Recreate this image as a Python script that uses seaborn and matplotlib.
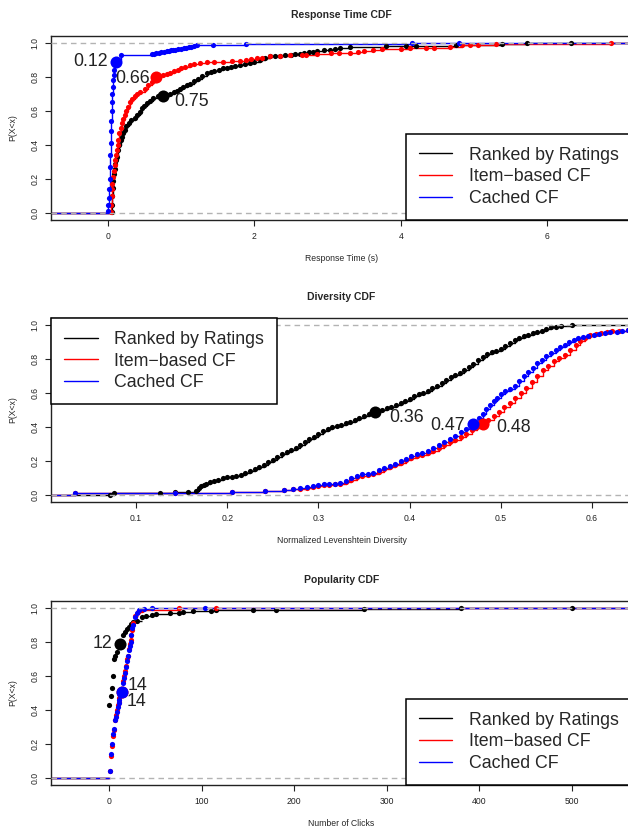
import matplotlib
matplotlib.use("Agg")
import matplotlib.pyplot as plt
from matplotlib.lines import Line2D
import seaborn as sns

sns.set_style("ticks")
plt.rcParams["font.family"] = ["Liberation Sans", "DejaVu Sans"]

series_names = ["Ranked by Ratings", "Item\u2212based CF", "Cached CF"]
series_colors = ["black", "red", "blue"]

# Response time CDF (seconds, P(X<x))
rt_black_x = [0.05, 0.055, 0.06, 0.065, 0.07, 0.08, 0.09, 0.10, 0.11, 0.12, 0.135, 0.15, 0.17,
              0.19, 0.21, 0.23, 0.25, 0.28, 0.32, 0.37, 0.40, 0.43, 0.46, 0.49, 0.53, 0.57, 0.62,
              0.68, 0.75, 0.80, 0.85, 0.90, 0.94, 0.98, 1.03, 1.08, 1.12, 1.18, 1.23, 1.29, 1.35,
              1.40, 1.45, 1.51, 1.57, 1.62, 1.68, 1.74, 1.80, 1.87, 1.94, 2.00, 2.07, 2.14, 2.21,
              2.28, 2.35, 2.42, 2.50, 2.56, 2.62, 2.68, 2.75, 2.80, 2.85, 2.95, 3.03, 3.10, 3.17,
              3.30, 3.80, 4.07, 4.21, 4.76, 5.39, 5.73, 6.33]
rt_black_p = [0.005, 0.05, 0.10, 0.15, 0.19, 0.23, 0.26, 0.29, 0.31, 0.33, 0.37, 0.40, 0.43,
              0.45, 0.47, 0.49, 0.51, 0.53, 0.545, 0.56, 0.575, 0.595, 0.615, 0.63, 0.645, 0.66,
              0.675, 0.685, 0.69, 0.695, 0.70, 0.71, 0.72, 0.73, 0.74, 0.75, 0.76, 0.775, 0.79,
              0.805, 0.82, 0.83, 0.835, 0.843, 0.85, 0.855, 0.86, 0.865, 0.87, 0.875, 0.88, 0.89,
              0.90, 0.91, 0.92, 0.922, 0.924, 0.927, 0.93, 0.932, 0.935, 0.94, 0.945, 0.948, 0.95,
              0.955, 0.96, 0.965, 0.97, 0.975, 0.98, 0.98, 0.982, 0.988, 0.994, 0.998, 1.0]
rt_red_x = [0.04, 0.045, 0.05, 0.055, 0.06, 0.07, 0.08, 0.09, 0.10, 0.11, 0.12, 0.13, 0.14, 0.155,
            0.17, 0.19, 0.21, 0.23, 0.25, 0.275, 0.30, 0.33, 0.37, 0.40, 0.44, 0.50, 0.55, 0.60,
            0.66, 0.70, 0.75, 0.80, 0.85, 0.90, 0.95, 1.00, 1.05, 1.12, 1.18, 1.25, 1.35, 1.45,
            1.57, 1.70, 1.80, 1.88, 1.95, 2.03, 2.10, 2.21, 2.35, 2.48, 2.65, 2.71, 2.85, 3.05,
            3.15, 3.30, 3.42, 3.50, 3.62, 3.75, 4.00, 4.12, 4.35, 4.45, 4.67, 4.84, 4.95, 5.05,
            5.30, 6.87]
rt_red_p = [0.005, 0.05, 0.10, 0.14, 0.17, 0.21, 0.25, 0.28, 0.31, 0.34, 0.37, 0.40, 0.43, 0.47,
            0.50, 0.53, 0.55, 0.575, 0.60, 0.625, 0.65, 0.67, 0.69, 0.70, 0.71, 0.73, 0.75, 0.77,
            0.80, 0.805, 0.81, 0.818, 0.825, 0.832, 0.84, 0.85, 0.86, 0.87, 0.875, 0.88, 0.885,
            0.888, 0.89, 0.893, 0.896, 0.90, 0.905, 0.91, 0.912, 0.92, 0.925, 0.93, 0.93, 0.931,
            0.933, 0.938, 0.94, 0.943, 0.946, 0.95, 0.955, 0.963, 0.966, 0.968, 0.97, 0.972, 0.976,
            0.985, 0.986, 0.988, 0.992, 0.996]
rt_blue_x = [0.00, 0.005, 0.01, 0.015, 0.02, 0.025, 0.03, 0.035, 0.04, 0.045, 0.05, 0.055, 0.06,
             0.065, 0.07, 0.075, 0.08, 0.09, 0.10, 0.12, 0.17, 0.60, 0.63, 0.66, 0.69, 0.72, 0.76,
             0.80, 0.83, 0.86, 0.89, 0.92, 0.96, 1.00, 1.04, 1.07, 1.10, 1.13, 1.17, 1.21, 1.43,
             1.89, 4.16, 4.80]
rt_blue_p = [0.01, 0.05, 0.09, 0.14, 0.20, 0.27, 0.34, 0.41, 0.48, 0.54, 0.60, 0.65, 0.70, 0.74,
             0.78, 0.81, 0.84, 0.87, 0.88, 0.90, 0.93, 0.935, 0.937, 0.94, 0.942, 0.945, 0.948,
             0.95, 0.952, 0.955, 0.957, 0.96, 0.962, 0.965, 0.968, 0.97, 0.975, 0.978, 0.982,
             0.985, 0.99, 0.995, 0.998, 1.0]
rt_means = [0.75, 0.66, 0.11]
rt_means_p = [0.69, 0.80, 0.89]
rt_labels = ["0.75", "0.66", "0.12"]

# Diversity CDF (normalized Levenshtein)
dv_black_x = [0.071, 0.076, 0.126, 0.143, 0.157, 0.166, 0.169, 0.171, 0.174, 0.177, 0.181, 0.185,
              0.190, 0.195, 0.200, 0.205, 0.210, 0.215, 0.220, 0.225, 0.230, 0.235, 0.240, 0.245,
              0.250, 0.255, 0.260, 0.265, 0.270, 0.275, 0.280, 0.285, 0.290, 0.295, 0.300, 0.305,
              0.310, 0.315, 0.320, 0.325, 0.330, 0.335, 0.340, 0.345, 0.350, 0.355, 0.360, 0.365,
              0.370, 0.375, 0.380, 0.385, 0.390, 0.395, 0.400, 0.405, 0.410, 0.415, 0.420, 0.425,
              0.430, 0.435, 0.440, 0.445, 0.450, 0.455, 0.460, 0.465, 0.470, 0.475, 0.480, 0.485,
              0.490, 0.495, 0.500, 0.505, 0.510, 0.515, 0.520, 0.525, 0.530, 0.535, 0.540, 0.545,
              0.550, 0.555, 0.560, 0.566, 0.578]
dv_black_p = [0.004, 0.010, 0.015, 0.017, 0.020, 0.024, 0.040, 0.052, 0.060, 0.068, 0.075, 0.082,
              0.090, 0.098, 0.105, 0.108, 0.113, 0.120, 0.130, 0.140, 0.152, 0.165, 0.178, 0.192,
              0.207, 0.222, 0.240, 0.252, 0.265, 0.278, 0.292, 0.310, 0.328, 0.342, 0.358, 0.375,
              0.390, 0.398, 0.405, 0.412, 0.422, 0.432, 0.443, 0.455, 0.466, 0.475, 0.483, 0.492,
              0.502, 0.510, 0.520, 0.532, 0.542, 0.555, 0.567, 0.580, 0.592, 0.602, 0.613, 0.627,
              0.643, 0.660, 0.677, 0.692, 0.705, 0.718, 0.732, 0.750, 0.772, 0.792, 0.812, 0.828,
              0.838, 0.847, 0.856, 0.875, 0.895, 0.912, 0.925, 0.935, 0.943, 0.950, 0.958, 0.966,
              0.976, 0.985, 0.990, 0.993, 0.996]
dv_red_x = [0.033, 0.143, 0.205, 0.241, 0.262, 0.272, 0.280, 0.288, 0.294, 0.300, 0.306, 0.312,
            0.318, 0.324, 0.330, 0.336, 0.342, 0.348, 0.354, 0.360, 0.366, 0.372, 0.378, 0.384,
            0.390, 0.396, 0.402, 0.408, 0.414, 0.420, 0.426, 0.432, 0.438, 0.444, 0.450, 0.456,
            0.462, 0.468, 0.474, 0.480, 0.486, 0.492, 0.498, 0.504, 0.510, 0.516, 0.522, 0.528,
            0.534, 0.540, 0.546, 0.552, 0.558, 0.564, 0.570, 0.576, 0.582, 0.587, 0.592, 0.598,
            0.604, 0.610, 0.616, 0.622, 0.630, 0.639]
dv_red_p = [0.014, 0.014, 0.020, 0.024, 0.030, 0.034, 0.038, 0.043, 0.050, 0.056, 0.060, 0.062,
            0.064, 0.067, 0.078, 0.092, 0.106, 0.115, 0.120, 0.126, 0.138, 0.152, 0.164, 0.177,
            0.190, 0.204, 0.216, 0.228, 0.238, 0.248, 0.262, 0.278, 0.294, 0.310, 0.326, 0.343,
            0.362, 0.380, 0.398, 0.418, 0.440, 0.462, 0.490, 0.515, 0.540, 0.572, 0.600, 0.630,
            0.665, 0.700, 0.735, 0.760, 0.785, 0.805, 0.825, 0.850, 0.880, 0.905, 0.925, 0.940,
            0.946, 0.952, 0.958, 0.962, 0.966, 0.970]
dv_blue_x = [0.033, 0.143, 0.205, 0.241, 0.262, 0.272, 0.280, 0.288, 0.294, 0.300, 0.306, 0.312,
             0.318, 0.324, 0.330, 0.336, 0.342, 0.348, 0.354, 0.360, 0.366, 0.372, 0.378, 0.384,
             0.390, 0.396, 0.402, 0.408, 0.414, 0.420, 0.426, 0.432, 0.438, 0.444, 0.450, 0.456,
             0.462, 0.467, 0.472, 0.476, 0.480, 0.484, 0.488, 0.492, 0.496, 0.500, 0.505, 0.510,
             0.515, 0.520, 0.525, 0.530, 0.535, 0.540, 0.545, 0.550, 0.555, 0.560, 0.565, 0.570,
             0.575, 0.580, 0.585, 0.590, 0.596, 0.602, 0.608, 0.614, 0.620, 0.627, 0.633, 0.639]
dv_blue_p = [0.014, 0.014, 0.020, 0.024, 0.030, 0.035, 0.040, 0.047, 0.055, 0.062, 0.064, 0.066,
             0.068, 0.072, 0.085, 0.100, 0.115, 0.122, 0.127, 0.132, 0.145, 0.160, 0.172, 0.185,
             0.200, 0.215, 0.228, 0.240, 0.250, 0.262, 0.278, 0.295, 0.312, 0.330, 0.348, 0.368,
             0.388, 0.405, 0.428, 0.455, 0.478, 0.505, 0.528, 0.550, 0.572, 0.592, 0.610, 0.625,
             0.642, 0.668, 0.700, 0.725, 0.748, 0.775, 0.795, 0.815, 0.832, 0.850, 0.867, 0.882,
             0.897, 0.910, 0.922, 0.930, 0.936, 0.941, 0.946, 0.950, 0.955, 0.960, 0.965, 0.970]
dv_means = [0.362, 0.48, 0.47]
dv_means_p = [0.486, 0.42, 0.42]
dv_labels = ["0.36", "0.48", "0.47"]

# Popularity CDF (number of clicks)
pop_black_x = [0, 2, 3, 4, 5, 6, 8, 10, 12, 15, 17, 19, 21, 24, 26, 30, 35, 40, 46, 51, 66, 75,
               80, 90, 110, 115, 155, 180, 275, 380, 500]
pop_black_p = [0.43, 0.48, 0.53, 0.60, 0.70, 0.72, 0.74, 0.77, 0.79, 0.84, 0.86, 0.875, 0.89,
               0.905, 0.915, 0.925, 0.945, 0.953, 0.959, 0.962, 0.968, 0.972, 0.978, 0.98, 0.984,
               0.988, 0.99, 0.99, 0.994, 0.996, 1.0]
pop_red_x = [1, 2, 3, 4, 5, 6, 7, 8, 9, 10, 11, 12, 14, 15, 16, 17, 18, 19, 20, 21, 22, 23, 24,
             25, 26, 28, 31, 35, 75, 115]
pop_red_p = [0.04, 0.13, 0.19, 0.25, 0.28, 0.34, 0.37, 0.40, 0.43, 0.45, 0.47, 0.49, 0.52, 0.57,
             0.60, 0.63, 0.66, 0.70, 0.72, 0.76, 0.79, 0.81, 0.84, 0.87, 0.91, 0.95, 0.975, 0.99,
             0.997, 1.0]
pop_blue_x = [1, 2, 3, 4, 5, 6, 7, 8, 9, 10, 11, 12, 14, 15, 16, 17, 18, 19, 20, 21, 22, 23, 24,
              25, 26, 28, 30, 32, 37, 46, 103]
pop_blue_p = [0.04, 0.14, 0.20, 0.26, 0.29, 0.34, 0.36, 0.39, 0.42, 0.44, 0.46, 0.48, 0.51, 0.56,
              0.59, 0.62, 0.655, 0.69, 0.715, 0.75, 0.775, 0.80, 0.84, 0.88, 0.90, 0.945, 0.97,
              0.985, 0.993, 0.998, 1.0]
pop_means = [12, 14, 14]
pop_means_p = [0.79, 0.506, 0.506]
pop_labels = ["12", "14", "14"]

W, H = 628, 827
fig = plt.figure(figsize=(W / 100, H / 100), dpi=100)


def make_axes(top, bottom, left=51, right=632):
    return fig.add_axes([left / W, 1 - bottom / H, (right - left) / W, (bottom - top) / H])


def draw_panel(ax, curves, xlim, xticks, title, xlabel, means, means_p, labels, offsets,
               legend_loc, steps=True):
    for (xs, ps), col in zip(curves, series_colors):
        if steps:
            sns.lineplot(x=[xlim[0]] + xs + [xlim[1]], y=[0] + ps + [ps[-1]], color=col,
                         lw=1.0, drawstyle="steps-post", sort=False, estimator=None, ax=ax)
        else:
            ax.hlines([0] + ps, [xlim[0]] + xs, xs + [xlim[1]], color=col, lw=1.0)
        sns.scatterplot(x=xs, y=ps, color=col, s=14, linewidth=0, ax=ax, zorder=3)
    ax.axhline(0, color="#B3B3B3", ls=(0, (4, 3)), lw=1.0, zorder=4)
    ax.axhline(1, color="#B3B3B3", ls=(0, (4, 3)), lw=1.0, zorder=4)
    for mx, mp, lab, col, (dx, dy, ha) in zip(means, means_p, labels, series_colors, offsets):
        ax.scatter([mx], [mp], color=col, s=75, zorder=6, linewidths=0)
        ax.annotate(lab, (mx, mp), xytext=(dx, dy), textcoords="offset points", ha=ha,
                    va="center", fontsize=12.8, color="#222222", zorder=7)
    ax.set_xlim(*xlim)
    ax.set_ylim(-0.04, 1.04)
    ax.set_xticks(xticks)
    ax.set_xticklabels([f"{t:g}" for t in xticks])
    ax.set_yticks([0, 0.2, 0.4, 0.6, 0.8, 1.0])
    ax.set_yticklabels([f"{t:.1f}" for t in [0, 0.2, 0.4, 0.6, 0.8, 1.0]], rotation=90,
                       va="center")
    ax.tick_params(axis="both", labelsize=6.2, length=4, width=0.8, direction="out",
                   colors="#222222")
    ax.tick_params(axis="x", pad=4.5)
    ax.tick_params(axis="y", pad=4)
    for sp in ax.spines.values():
        sp.set_linewidth(1.0)
        sp.set_color("#222222")
    ax.set_title(title, fontsize=7.5, fontweight="bold", pad=13)
    ax.set_xlabel(xlabel, fontsize=6.2, labelpad=9.5)
    ax.set_ylabel("P(X<x)", fontsize=6.2, labelpad=9.5)
    handles = [Line2D([0], [0], color=c, lw=1.0) for c in series_colors]
    anchor = (1, 0) if legend_loc == "lower right" else (0, 1)
    leg = ax.legend(handles, series_names, loc=legend_loc, bbox_to_anchor=anchor,
                    borderaxespad=0, fancybox=False, edgecolor="black", framealpha=1,
                    fontsize=12.8, handlelength=1.9, handletextpad=0.95, labelspacing=0.27,
                    borderpad=0.72)
    leg.get_frame().set_linewidth(1.1)
    leg.set_zorder(10)


ax1 = make_axes(36, 220)
draw_panel(ax1, [(rt_black_x, rt_black_p), (rt_red_x, rt_red_p), (rt_blue_x, rt_blue_p)],
           (-0.78, 7.16), [0, 2, 4, 6], "Response Time CDF", "Response Time (s)",
           rt_means, rt_means_p, rt_labels,
           [(8, -4, "left"), (-5, -1, "right"), (-6, 0, "right")], "lower right")

ax2 = make_axes(318, 502)
draw_panel(ax2, [(dv_black_x, dv_black_p), (dv_red_x, dv_red_p), (dv_blue_x, dv_blue_p)],
           (0.0068, 0.6438), [0.1, 0.2, 0.3, 0.4, 0.5, 0.6], "Diversity CDF",
           "Normalized Levenshtein Diversity", dv_means, dv_means_p, dv_labels,
           [(10, -4, "left"), (10, -3, "left"), (-6, -1.5, "right")], "upper left")

ax3 = make_axes(601, 785)
draw_panel(ax3, [(pop_black_x, pop_black_p), (pop_red_x, pop_red_p), (pop_blue_x, pop_blue_p)],
           (-63, 565), [0, 100, 200, 300, 400, 500], "Popularity CDF", "Number of Clicks",
           pop_means, pop_means_p, pop_labels,
           [(-6, 0, "right"), (4, 4.5, "left"), (3.5, -7, "left")], "lower right", steps=False)

fig.savefig("out.png", dpi=100)
